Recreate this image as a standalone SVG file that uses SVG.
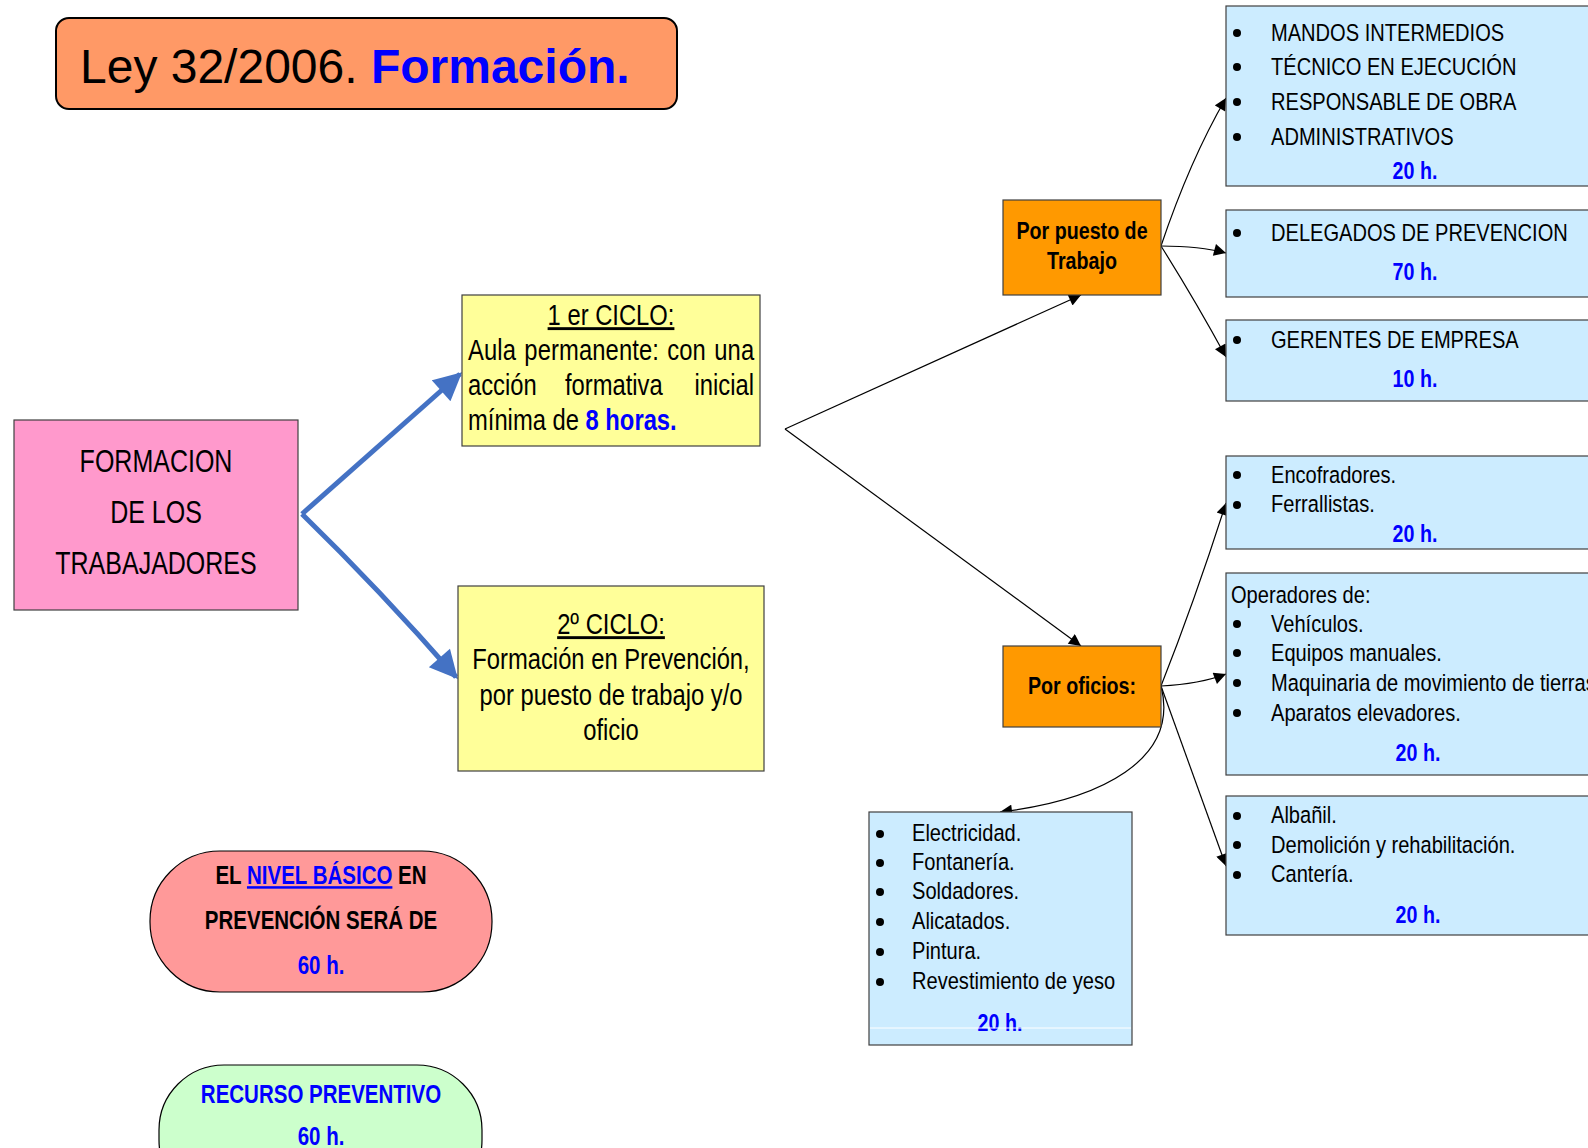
<svg xmlns="http://www.w3.org/2000/svg" width="1588" height="1148" viewBox="0 0 1588 1148">
<style>
.n{font-family:"Liberation Sans",Arial,sans-serif;}
.t24{font-size:24.5px;fill:#000;}
.h{font-size:24px;font-weight:bold;fill:#0000FF;text-anchor:middle;}
.c{text-anchor:middle;}
.e{text-anchor:end;}
.blue{fill:#0000FF;}
.box{stroke:#404040;stroke-width:1.2;}
.lb{fill:#CCECFF;}
.conn{fill:none;stroke:#000;stroke-width:1.2;}
.big{fill:none;stroke:#4472C4;stroke-width:5;}
</style>
<defs>
<marker id="a" viewBox="0 0 10 10" refX="10" refY="5" markerWidth="14" markerHeight="12" markerUnits="userSpaceOnUse" orient="auto"><path d="M0,0 L10,5 L0,10 z" fill="#000"/></marker>
<marker id="b" viewBox="0 0 10 10" refX="9" refY="5" markerWidth="30" markerHeight="28" markerUnits="userSpaceOnUse" orient="auto"><path d="M0,0 L10,5 L0,10 z" fill="#4472C4"/></marker>
</defs>
<rect width="1588" height="1148" fill="#fff"/>

<g id="title">
<rect x="56" y="18" width="621" height="91" rx="13" fill="#FF9966" stroke="#000" stroke-width="2"/>
<text x="80" y="83" font-family="'Liberation Sans',Arial,sans-serif" font-size="48">Ley 32/2006. <tspan font-weight="bold" fill="#0000FF">Formación.</tspan></text>
</g>

<g id="connectors">
<path class="big" d="M302,514 L460,374" marker-end="url(#b)"/>
<path class="big" d="M302,514 Q380,590 456,677" marker-end="url(#b)"/>
<path class="conn" d="M785,429 L1081,295" marker-end="url(#a)"/>
<path class="conn" d="M785,429 L1081,646" marker-end="url(#a)"/>
<path class="conn" d="M1161,246 Q1190,160 1226,98" marker-end="url(#a)"/>
<path class="conn" d="M1161,246 Q1200,246 1226,253" marker-end="url(#a)"/>
<path class="conn" d="M1161,246 Q1195,300 1226,357" marker-end="url(#a)"/>
<path class="conn" d="M1161,686 Q1195,600 1226,503" marker-end="url(#a)"/>
<path class="conn" d="M1161,686 Q1200,684 1226,674" marker-end="url(#a)"/>
<path class="conn" d="M1161,686 Q1195,780 1226,866" marker-end="url(#a)"/>
<path class="conn" d="M1161,686 C1180,760 1100,800 1000,812" marker-end="url(#a)"/>
</g>

<g id="formacion">
<rect class="box" x="14" y="420" width="284" height="190" fill="#FF99CC"/>
<text class="n c" font-size="30.5" transform="translate(156,472) scale(.82,1)">FORMACION</text>
<text class="n c" font-size="30.5" transform="translate(156,523) scale(.82,1)">DE LOS</text>
<text class="n c" font-size="30.5" transform="translate(156,574) scale(.82,1)">TRABAJADORES</text>
</g>

<g id="ciclo1">
<rect class="box" x="462" y="295" width="298" height="151" fill="#FFFF99"/>
<text class="n c" font-size="29" text-decoration="underline" transform="translate(611,325) scale(.82,1)">1 er CICLO:</text>
<text class="n" font-size="29" textLength="349" lengthAdjust="spacing" word-spacing="2" transform="translate(468,360) scale(.82,1)">Aula permanente: con una</text>
<text class="n" font-size="29" transform="translate(468,395) scale(.82,1)">acción</text>
<text class="n" font-size="29" transform="translate(565,395) scale(.82,1)">formativa</text>
<text class="n e" font-size="29" transform="translate(754,395) scale(.82,1)">inicial</text>
<text class="n" font-size="29" transform="translate(468,430) scale(.82,1)">mínima de <tspan class="blue" font-weight="bold">8 horas.</tspan></text>
</g>

<g id="ciclo2">
<rect class="box" x="458" y="586" width="306" height="185" fill="#FFFF99"/>
<text class="n c" font-size="29" text-decoration="underline" transform="translate(611,634) scale(.82,1)">2º CICLO:</text>
<text class="n c" font-size="29" transform="translate(611,669) scale(.82,1)">Formación en Prevención,</text>
<text class="n c" font-size="29" transform="translate(611,705) scale(.82,1)">por puesto de trabajo y/o</text>
<text class="n c" font-size="29" transform="translate(611,740) scale(.82,1)">oficio</text>
</g>

<g id="puesto">
<rect class="box" x="1003" y="200" width="158" height="95" fill="#FF9900"/>
<text class="n c" font-size="24" font-weight="bold" transform="translate(1082,239) scale(.82,1)">Por puesto de</text>
<text class="n c" font-size="24" font-weight="bold" transform="translate(1082,269) scale(.82,1)">Trabajo</text>
</g>

<g id="oficios">
<rect class="box" x="1003" y="646" width="158" height="81" fill="#FF9900"/>
<text class="n c" font-size="24" font-weight="bold" transform="translate(1082,694) scale(.82,1)">Por oficios:</text>
</g>

<g id="mandos">
<rect class="box lb" x="1226" y="6" width="380" height="180"/>
<circle cx="1237" cy="33" r="4"/><circle cx="1237" cy="67" r="4"/><circle cx="1237" cy="102" r="4"/><circle cx="1237" cy="137" r="4"/>
<text class="n t24" transform="translate(1271,41) scale(.82,1)">MANDOS INTERMEDIOS</text>
<text class="n t24" transform="translate(1271,75) scale(.82,1)">TÉCNICO EN EJECUCIÓN</text>
<text class="n t24" transform="translate(1271,110) scale(.82,1)">RESPONSABLE DE OBRA</text>
<text class="n t24" transform="translate(1271,145) scale(.82,1)">ADMINISTRATIVOS</text>
<text class="n h" transform="translate(1415,179) scale(.82,1)">20 h.</text>
</g>

<g id="delegados">
<rect class="box lb" x="1226" y="210" width="380" height="87"/>
<circle cx="1237" cy="233" r="4"/>
<text class="n t24" transform="translate(1271,241) scale(.82,1)">DELEGADOS DE PREVENCION</text>
<text class="n h" transform="translate(1415,280) scale(.82,1)">70 h.</text>
</g>

<g id="gerentes">
<rect class="box lb" x="1226" y="320" width="380" height="81"/>
<circle cx="1237" cy="340" r="4"/>
<text class="n t24" transform="translate(1271,348) scale(.82,1)">GERENTES DE EMPRESA</text>
<text class="n h" transform="translate(1415,387) scale(.82,1)">10 h.</text>
</g>

<g id="encofradores">
<rect class="box lb" x="1226" y="456" width="380" height="93"/>
<circle cx="1237" cy="475" r="4"/><circle cx="1237" cy="505" r="4"/>
<text class="n t24" transform="translate(1271,483) scale(.82,1)">Encofradores.</text>
<text class="n t24" transform="translate(1271,512) scale(.82,1)">Ferrallistas.</text>
<text class="n h" transform="translate(1415,542) scale(.82,1)">20 h.</text>
</g>

<g id="operadores">
<rect class="box lb" x="1226" y="573" width="380" height="202"/>
<text class="n t24" transform="translate(1231,603) scale(.82,1)">Operadores de:</text>
<circle cx="1237" cy="624" r="4"/><circle cx="1237" cy="653" r="4"/><circle cx="1237" cy="683" r="4"/><circle cx="1237" cy="713" r="4"/>
<text class="n t24" transform="translate(1271,632) scale(.82,1)">Vehículos.</text>
<text class="n t24" transform="translate(1271,661) scale(.82,1)">Equipos manuales.</text>
<text class="n t24" transform="translate(1271,691) scale(.82,1)">Maquinaria de movimiento de tierras</text>
<text class="n t24" transform="translate(1271,721) scale(.82,1)">Aparatos elevadores.</text>
<text class="n h" transform="translate(1418,761) scale(.82,1)">20 h.</text>
</g>

<g id="albanil">
<rect class="box lb" x="1226" y="796" width="380" height="139"/>
<circle cx="1237" cy="816" r="4"/><circle cx="1237" cy="845" r="4"/><circle cx="1237" cy="875" r="4"/>
<text class="n t24" transform="translate(1271,823) scale(.82,1)">Albañil.</text>
<text class="n t24" transform="translate(1271,853) scale(.82,1)">Demolición y rehabilitación.</text>
<text class="n t24" transform="translate(1271,882) scale(.82,1)">Cantería.</text>
<text class="n h" transform="translate(1418,923) scale(.82,1)">20 h.</text>
</g>

<g id="electricidad">
<rect class="box lb" x="869" y="812" width="263" height="233"/>
<circle cx="880" cy="834" r="4"/><circle cx="880" cy="863" r="4"/><circle cx="880" cy="892" r="4"/><circle cx="880" cy="922" r="4"/><circle cx="880" cy="952" r="4"/><circle cx="880" cy="982" r="4"/>
<text class="n t24" transform="translate(912,841) scale(.82,1)">Electricidad.</text>
<text class="n t24" transform="translate(912,870) scale(.82,1)">Fontanería.</text>
<text class="n t24" transform="translate(912,899) scale(.82,1)">Soldadores.</text>
<text class="n t24" transform="translate(912,929) scale(.82,1)">Alicatados.</text>
<text class="n t24" transform="translate(912,959) scale(.82,1)">Pintura.</text>
<text class="n t24" transform="translate(912,989) scale(.82,1)">Revestimiento de yeso</text>
<text class="n h" transform="translate(1000,1031) scale(.82,1)">20 h.</text>
<line x1="870" y1="1028" x2="1131" y2="1028" stroke="#fff" stroke-width="1"/>
</g>

<g id="nivelbasico">
<rect x="150" y="851" width="342" height="141" rx="70" fill="#FF9999" stroke="#000" stroke-width="1.2"/>
<text class="n c" font-size="25" font-weight="bold" transform="translate(321,884) scale(.82,1)">EL <tspan fill="#0000FF" text-decoration="underline">NIVEL BÁSICO</tspan> EN</text>
<text class="n c" font-size="25" font-weight="bold" transform="translate(321,929) scale(.82,1)">PREVENCIÓN SERÁ DE</text>
<text class="n c blue" font-size="25" font-weight="bold" transform="translate(321,974) scale(.82,1)">60 h.</text>
</g>

<g id="recurso">
<rect x="159" y="1065" width="323" height="140" rx="65" fill="#CCFFCC" stroke="#000" stroke-width="1.2"/>
<text class="n c blue" font-size="25" font-weight="bold" transform="translate(321,1103) scale(.82,1)">RECURSO PREVENTIVO</text>
<text class="n c blue" font-size="25" font-weight="bold" transform="translate(321,1145) scale(.82,1)">60 h.</text>
</g>
</svg>
